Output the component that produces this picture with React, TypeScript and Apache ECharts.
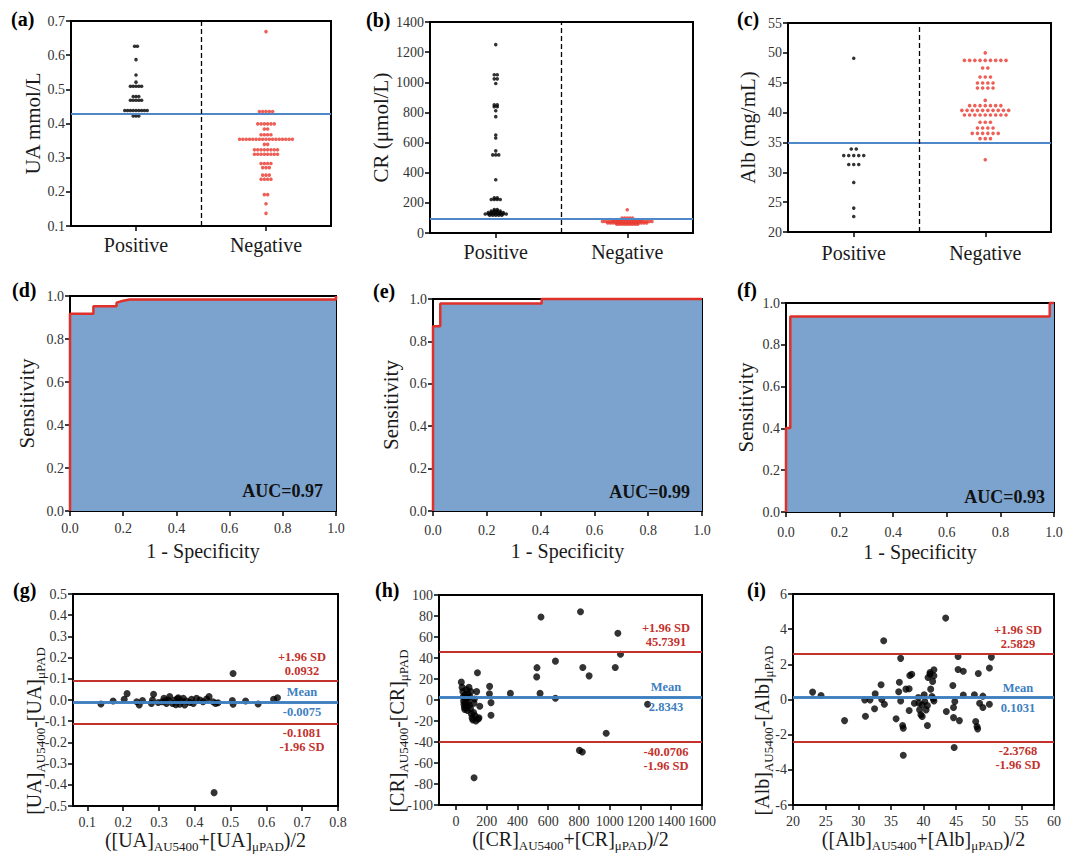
import { useEffect, useRef } from "react";
import * as echarts from "echarts";

const SERIF = "'Liberation Serif', 'DejaVu Serif', serif";
const INK = "#1a1a1a";
const TICK_INK = "#333";
const DOT_RED = "#e8372d";
const ROC_RED = "#e0302a";
const BA_RED = "#c3322c";
const CUT_BLUE = "#4f88c8";
const MEAN_BLUE = "#3d7fc1";
const AREA_BLUE = "#7ba3cd";

const groups = ["Positive", "Negative"];

// (a) UA dot plot: row level and number of dots in the row
const uaPosLevels = [0.626, 0.587, 0.542, 0.521, 0.509, 0.479, 0.468, 0.438, 0.422];
const uaPosCounts = [2, 1, 1, 1, 5, 3, 5, 9, 3];
const uaNegLevels = [0.669, 0.435, 0.399, 0.384, 0.367, 0.354, 0.339, 0.323, 0.31, 0.283, 0.271, 0.249, 0.237, 0.192, 0.165, 0.137];
const uaNegCounts = [1, 5, 6, 2, 4, 17, 2, 8, 8, 4, 3, 3, 4, 2, 1, 1];
const uaCutoff = 0.428;

// (b) CR dot plot
const crPosLevels = [1250, 1050, 1023, 992, 850, 838, 811, 772, 650, 630, 545, 518, 353, 233, 222, 155, 145, 135, 126, 118];
const crPosCounts = [1, 2, 2, 1, 2, 2, 1, 1, 1, 1, 1, 3, 1, 2, 4, 2, 4, 6, 8, 5];
const crNegLevels = [154, 99, 88, 77, 66, 58];
const crNegCounts = [1, 5, 12, 20, 16, 9];
const crCutoff = 95;

// (c) Alb dot plot
const albPosLevels = [49.1, 33.9, 32.8, 31.3, 28.3, 24.0, 22.6];
const albPosCounts = [1, 2, 5, 3, 1, 1, 1];
const albNegLevels = [50.0, 48.75, 47.46, 45.96, 44.95, 44.11, 42.05, 41.16, 40.37, 39.59, 38.37, 37.42, 36.52, 35.63, 32.11];
const albNegCounts = [1, 9, 2, 3, 4, 4, 1, 7, 10, 9, 3, 4, 6, 3, 1];
const albCutoff = 34.9;

// (d)-(f) ROC curves [1 - specificity, sensitivity]
const rocUA = [[0, 0], [0, 0.918], [0.088, 0.918], [0.088, 0.952], [0.175, 0.952], [0.175, 0.969], [0.2, 0.978], [0.225, 0.984], [1, 0.984], [1, 1]];
const rocCR = [[0, 0], [0, 0.871], [0.027, 0.871], [0.027, 0.979], [0.404, 0.979], [0.404, 1], [1, 1]];
const rocAlb = [[0, 0], [0, 0.402], [0.016, 0.402], [0.016, 0.936], [0.984, 0.936], [0.984, 1], [1, 1]];
const aucValues = [0.97, 0.99, 0.93];

// (g)-(i) Bland-Altman [mean, difference]
const baUA = [
  [0.138, -0.019], [0.172, -0.005], [0.203, 0.003], [0.211, 0.03], [0.238, -0.008], [0.245, -0.024],
  [0.254, -0.003], [0.279, -0.016], [0.285, 0.027], [0.282, 0.0], [0.298, -0.012], [0.309, -0.008],
  [0.314, 0.008], [0.318, -0.004], [0.321, -0.016], [0.326, 0.0], [0.33, 0.016], [0.338, -0.016],
  [0.344, 0.0], [0.347, -0.022], [0.352, 0.006], [0.354, 0.011], [0.358, -0.02], [0.363, -0.005],
  [0.368, 0.008], [0.372, -0.024], [0.377, -0.005], [0.386, -0.012], [0.391, 0.003], [0.396, -0.016],
  [0.405, 0.008], [0.415, 0.0], [0.423, -0.008], [0.433, 0.005], [0.44, 0.016], [0.451, -0.008],
  [0.458, -0.016], [0.465, -0.013], [0.505, -0.003], [0.507, -0.02], [0.507, 0.125], [0.542, -0.005],
  [0.577, -0.019], [0.62, 0.003], [0.631, 0.011], [0.454, -0.437],
];
const baCR = [
  [35, 17], [40, 12], [45, 8], [48, 3], [50, -1], [52, -4], [55, -7], [58, -9], [60, 5], [62, 1],
  [65, -3], [68, 10], [70, -6], [72, 2], [75, -10], [78, 6], [80, -2], [85, 12], [88, -5], [90, 3],
  [95, -8], [98, 8], [100, -13], [105, -17], [110, -19], [115, -12], [118, -3], [120, 1], [125, -15],
  [130, -20], [135, 8], [140, 26], [145, -18], [150, -17], [155, -6], [118, -74],
  [219, 13], [218, 6], [228, -2.5], [228, -14.6], [354, 6.3], [527, 30.8], [525, 22], [553, 79],
  [547, 6.3], [647, 37], [647, 1.6], [810, 84], [825, 31], [866, 23], [803, -48], [822, -49.5],
  [977, -31.7], [1036, 31], [1053, 63.5], [1070, 43.5], [1246, -4],
];
const baAlb = [
  [23.0, 0.42], [24.3, 0.23], [27.9, -1.2], [31.0, -0.02], [31.1, -0.95], [31.8, -0.02], [32.6, 0.32],
  [32.5, -0.53], [33.5, 0.84], [33.6, 0.0], [34.0, -0.27], [33.9, 3.34], [35.8, -1.1], [36.3, 0.98],
  [36.2, 0.44], [36.5, 2.34], [36.5, -0.08], [36.8, -1.48], [36.9, -1.63], [36.9, -3.17], [37.3, 0.59],
  [37.8, 0.61], [37.9, 1.37], [38.2, 1.44], [37.8, -0.63], [38.6, -0.21], [39.2, 0.11], [39.3, -0.21],
  [39.4, -0.59], [39.6, -0.87], [39.8, -0.97], [39.8, -0.3], [40.1, 0.27], [40.2, -0.11], [40.4, -0.59],
  [40.6, -0.34], [40.7, 1.25], [41.0, 1.44], [41.0, 1.54], [40.6, -1.48], [41.1, 0.59], [41.6, 1.35],
  [41.6, 1.69], [41.4, 1.03], [41.5, 0.04], [41.3, 0.17], [41.6, -0.08], [43.5, -0.68], [43.4, 4.63],
  [44.5, 0.8], [44.8, -0.11], [44.6, -0.46], [44.6, -1.03], [44.7, -2.73], [45.3, 2.45], [45.3, 1.71],
  [45.5, -1.2], [46.1, 1.61], [46.1, 0.25], [47.8, 0.27], [48.0, -1.25], [48.2, -1.54], [48.3, -1.67],
  [48.4, 1.48], [48.6, -0.21], [49.1, -0.46], [49.1, 0.19], [50.1, 1.79], [50.4, 2.41], [50.1, -0.27],
];
const baMean = [-0.0075, 2.8343, 0.1031];
const baUpper = [0.0932, 45.7391, 2.5829];
const baLower = [-0.1081, -40.0706, -2.3768];

const baUATicksX = [0.1, 0.2, 0.3, 0.4, 0.5, 0.6, 0.7, 0.8];
const baCRTicksX = [0, 200, 400, 600, 800, 1000, 1200, 1400, 1600];

const boxes = [
  { left: 71, top: 21, width: 260, height: 205 },
  { left: 430, top: 22, width: 263, height: 211 },
  { left: 788, top: 23, width: 263, height: 209 },
  { left: 70, top: 296, width: 266, height: 215 },
  { left: 433, top: 299, width: 269, height: 212 },
  { left: 786, top: 303, width: 268, height: 209 },
  { left: 73, top: 594, width: 265, height: 212 },
  { left: 439, top: 595, width: 263, height: 210 },
  { left: 793, top: 594, width: 261, height: 211 },
];

// spread the dots of one row side by side around the group centre
function swarm(levels: number[], counts: number[], center: number, step: number) {
  const pts: number[][] = [];
  levels.forEach((v, i) => {
    const n = counts[i];
    for (let k = 0; k < n; k++) pts.push([center + (k - (n - 1) / 2) * step, v]);
  });
  return pts;
}

const axisLine = { show: true, onZero: false, lineStyle: { color: "#000", width: 2 } };
const axisTick = { show: true, inside: false, length: 5, lineStyle: { color: "#000", width: 1.5 } };
const tickFont = { fontFamily: SERIF, fontSize: 14, color: TICK_INK };
const nameFont = { fontFamily: SERIF, fontSize: 21, color: INK };
const subRich = {
  n: { fontFamily: SERIF, fontSize: 20, color: INK, lineHeight: 26 },
  s: { fontFamily: SERIF, fontSize: 13, color: INK, lineHeight: 12, verticalAlign: "bottom" },
};

function vAxis(gridIndex: number, extra: any) {
  const { label, tick, ...rest } = extra;
  return {
    type: "value",
    gridIndex,
    splitLine: { show: false },
    axisLine,
    axisTick: { ...axisTick, ...(tick || {}) },
    axisLabel: { ...tickFont, ...(label || {}) },
    nameTextStyle: nameFont,
    ...rest,
  };
}

function dotPanel(i: number, pos: any, neg: any, cutoff: number, min: number, max: number, interval: number, name: string, nameGap: number, labelMargin: number) {
  const w = boxes[i].width;
  const x = vAxis(i, {
    min: 0,
    max: 2,
    tick: { customValues: [0.5, 1.5] },
    label: {
      customValues: [0.5, 1.5],
      formatter: (v: number) => groups[v < 1 ? 0 : 1],
      fontSize: 20,
      color: INK,
      margin: labelMargin,
    },
  });
  const y = vAxis(i, {
    min,
    max,
    interval,
    label: { margin: 6, formatter: (v: number) => (interval < 1 ? v.toFixed(1) : String(Math.round(v))) },
    name,
    nameLocation: "middle",
    nameRotate: 90,
    nameGap,
  });
  const series = [
    {
      type: "scatter",
      xAxisIndex: i,
      yAxisIndex: i,
      symbolSize: 3.6,
      itemStyle: { color: "#000" },
      data: swarm(pos.levels, pos.counts, 0.5, (pos.px * 2) / w),
      markLine: {
        silent: true,
        symbol: ["none", "none"],
        label: { show: false },
        data: [
          { yAxis: cutoff, lineStyle: { color: CUT_BLUE, width: 2, type: "solid" } },
          { xAxis: 1, lineStyle: { color: "#000", width: 1.3, type: [5, 3] } },
        ],
      },
    },
    {
      type: "scatter",
      xAxisIndex: i,
      yAxisIndex: i,
      symbolSize: 3.6,
      itemStyle: { color: DOT_RED },
      data: swarm(neg.levels, neg.counts, 1.5, (neg.px * 2) / w),
    },
  ];
  return { x, y, series };
}

function rocPanel(i: number, data: number[][], nameGap: number, labelMargin: number) {
  const x = vAxis(i, {
    min: 0,
    max: 1,
    interval: 0.2,
    label: { margin: labelMargin, formatter: (v: number) => v.toFixed(1) },
    name: "1 - Specificity",
    nameLocation: "middle",
    nameGap: 30,
    nameTextStyle: { ...nameFont, fontSize: 20 },
  });
  const y = vAxis(i, {
    min: 0,
    max: 1,
    interval: 0.2,
    label: { margin: 6, formatter: (v: number) => v.toFixed(1) },
    name: "Sensitivity",
    nameLocation: "middle",
    nameRotate: 90,
    nameGap,
  });
  const series = [
    {
      type: "line",
      xAxisIndex: i,
      yAxisIndex: i,
      data,
      showSymbol: false,
      clip: false,
      lineStyle: { color: ROC_RED, width: 2.5 },
      areaStyle: { color: AREA_BLUE, opacity: 1 },
      z: 3,
    },
  ];
  return { x, y, series };
}

function baLines(k: number) {
  const rich = (color: string) => ({
    c: { width: 66, align: "center", color, fontFamily: SERIF, fontWeight: "bold", fontSize: 12.5, lineHeight: 14 },
  });
  const lab = (color: string, position: string, text: string) => ({ show: true, position, distance: 3, formatter: text, rich: rich(color) });
  const red = { color: BA_RED, width: 2.2, type: "solid" };
  const blue = { color: MEAN_BLUE, width: 2.5, type: "solid" };
  return {
    silent: true,
    symbol: ["none", "none"],
    data: [
      { yAxis: baUpper[k], lineStyle: red, label: lab(BA_RED, "insideEndTop", `{c|+1.96 SD}\n{c|${baUpper[k].toFixed(4)}}`) },
      { yAxis: baMean[k], lineStyle: blue, label: lab(MEAN_BLUE, "insideEndTop", "{c|Mean}") },
      { yAxis: baMean[k], lineStyle: blue, label: lab(MEAN_BLUE, "insideEndBottom", `{c|${baMean[k].toFixed(4)}}`) },
      { yAxis: baLower[k], lineStyle: red, label: lab(BA_RED, "insideEndBottom", `{c|${baLower[k].toFixed(4)}}\n{c|-1.96 SD}`) },
    ],
  };
}

function baPanel(i: number, k: number, data: number[][], xa: any, ya: any, analyte: string) {
  const x = vAxis(i, {
    ...xa,
    name: `{n|([${analyte}]}{s|AU5400}{n|+[${analyte}]}{s|μPAD}{n|)/2}`,
    nameLocation: "middle",
    nameGap: 19,
    nameTextStyle: { ...nameFont, rich: subRich },
  });
  const y = vAxis(i, ya);
  const series = [
    {
      type: "scatter",
      xAxisIndex: i,
      yAxisIndex: i,
      symbolSize: 7,
      itemStyle: { color: "#000" },
      data,
      markLine: baLines(k),
      z: 3,
    },
  ];
  return { x, y, series };
}

function buildOption() {
  const panels = [
    dotPanel(0, { levels: uaPosLevels, counts: uaPosCounts, px: 2.8 }, { levels: uaNegLevels, counts: uaNegCounts, px: 3.3 }, uaCutoff, 0.1, 0.7, 0.1, "UA mmol/L", 27, 9),
    dotPanel(1, { levels: crPosLevels, counts: crPosCounts, px: 3 }, { levels: crNegLevels, counts: crNegCounts, px: 2.6 }, crCutoff, 0, 1400, 200, "CR (μmol/L)", 39, 9),
    dotPanel(2, { levels: albPosLevels, counts: albPosCounts, px: 5 }, { levels: albNegLevels, counts: albNegCounts, px: 5.2 }, albCutoff, 20, 55, 5, "Alb (mg/mL)", 30, 11),
    rocPanel(3, rocUA, 33, 10),
    rocPanel(4, rocCR, 32, 12),
    rocPanel(5, rocAlb, 30, 13),
    baPanel(
      6, 0, baUA,
      { min: 0.06, max: 0.8, tick: { customValues: baUATicksX }, label: { customValues: baUATicksX, margin: 9, formatter: (v: number) => v.toFixed(1) } },
      { min: -0.5, max: 0.5, interval: 0.1, label: { margin: 6, formatter: (v: number) => v.toFixed(1) } },
      "UA",
    ),
    baPanel(
      7, 1, baCR,
      { min: -110, max: 1600, tick: { customValues: baCRTicksX }, label: { customValues: baCRTicksX, margin: 9, formatter: (v: number) => String(Math.round(v)) } },
      { min: -100, max: 100, interval: 20, label: { margin: 6, formatter: (v: number) => String(Math.round(v)) } },
      "CR",
    ),
    baPanel(
      8, 2, baAlb,
      { min: 20, max: 60, interval: 5, label: { margin: 9, formatter: (v: number) => String(Math.round(v)) } },
      { min: -6, max: 6, interval: 2, label: { margin: 6, formatter: (v: number) => String(Math.round(v)) } },
      "Alb",
    ),
  ];

  const letters = [
    ["(a)", 11, 19], ["(b)", 366, 20], ["(c)", 737, 19],
    ["(d)", 12, 290], ["(e)", 373, 291], ["(f)", 737, 290],
    ["(g)", 13, 590], ["(h)", 375, 590], ["(i)", 747, 590],
  ];
  const aucPos = [[323, 491], [690, 492], [1045, 497]];
  const baNames = [["UA", 34], ["CR", 397], ["Alb", 762]];

  const graphic: any[] = letters.map(([t, x, y]) => ({
    type: "text",
    x,
    y,
    style: { text: t, fontFamily: SERIF, fontSize: 20, fontWeight: "bold", fill: "#000", align: "left", verticalAlign: "middle" },
  }));
  aucValues.forEach((a, k) => {
    graphic.push({
      type: "text",
      x: aucPos[k][0],
      y: aucPos[k][1],
      z: 10,
      style: { text: `AUC=${a.toFixed(2)}`, fontFamily: SERIF, fontSize: 18, fontWeight: "bold", fill: "#111", align: "right", verticalAlign: "middle" },
    });
  });
  // rotated y-axis titles of the Bland-Altman panels; the rich text comes out
  // about 31px short of centre when rotated, so it is nudged down by that much
  baNames.forEach(([a, x], k) => {
    const b = boxes[6 + k];
    graphic.push({
      type: "text",
      x,
      y: b.top + b.height / 2 + 31,
      rotation: Math.PI / 2,
      style: {
        text: `{n|[${a}]}{s|AU5400}{n|-[${a}]}{s|μPAD}`,
        rich: subRich,
        fontFamily: SERIF,
        fontSize: 20,
        fill: INK,
        align: "center",
        verticalAlign: "middle",
      },
    });
  });

  return {
    animation: false,
    backgroundColor: "#fff",
    textStyle: { fontFamily: SERIF },
    grid: boxes.map((b) => ({ ...b, show: true, borderColor: "#000", borderWidth: 2, backgroundColor: "transparent", containLabel: false })),
    xAxis: panels.map((p) => p.x),
    yAxis: panels.map((p) => p.y),
    series: panels.flatMap((p) => p.series),
    graphic,
  };
}

export default function App() {
  const ref = useRef<HTMLDivElement>(null);

  useEffect(() => {
    document.body.style.margin = "0";
    if (!ref.current) return;
    const chart = echarts.init(ref.current, null, { renderer: "svg" });
    chart.setOption(buildOption() as any);
    return () => chart.dispose();
  }, []);

  return <div ref={ref} style={{ width: 1080, height: 857 }} />;
}
